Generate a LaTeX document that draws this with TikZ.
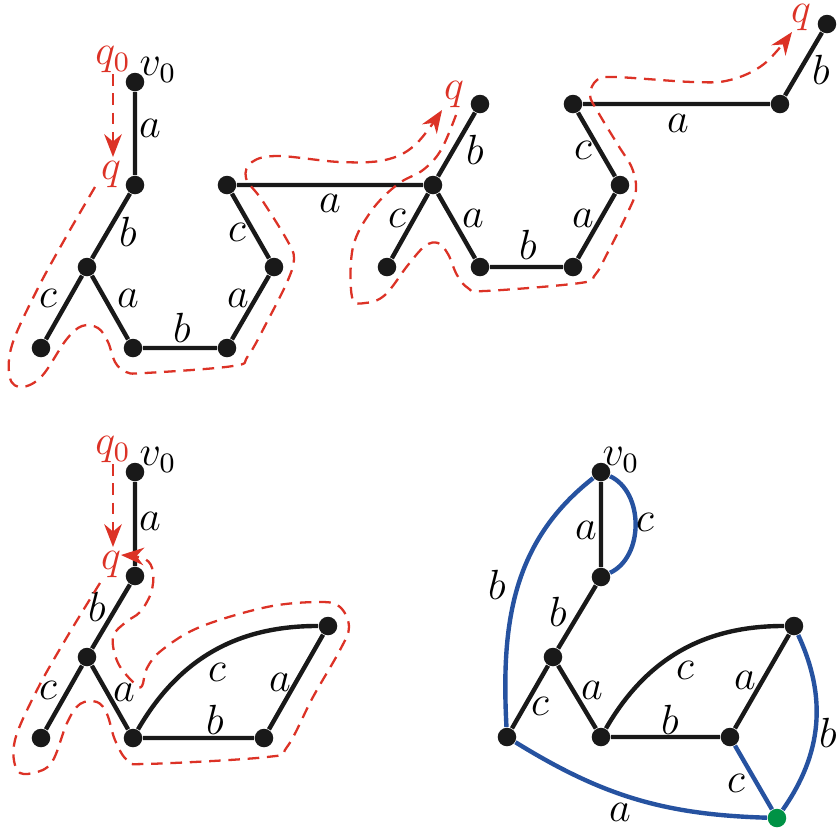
\documentclass[tikz,border=0pt]{standalone}
\usepackage{amsmath}
\usepackage{xcolor}
\usepackage{tikz}
\usetikzlibrary{arrows.meta, calc}

\definecolor{walkred}{RGB}{220,50,38}
\definecolor{edgeblue}{RGB}{38,82,160}
\definecolor{sinkgreen}{RGB}{0,146,69}

\begin{document}
\begin{tikzpicture}[x=0.01cm, y=-0.01cm, >={Stealth[length=6.5pt, width=5pt]}, every node/.style={font=\fontsize{11.5}{13}\selectfont}]
    \tikzstyle{vert}=[circle, fill=black!90, inner sep=0pt, minimum size=0.185cm]
    \tikzstyle{sink}=[circle, fill=sinkgreen, inner sep=0pt, minimum size=0.185cm]
    \tikzstyle{tree}=[line width=1.25pt, black!90]
    \tikzstyle{extra}=[line width=1.25pt, edgeblue]
    \tikzstyle{walk}=[walkred, line width=0.65pt, dash pattern=on 3.3pt off 2.2pt]
    \tikzstyle{lbl}=[inner sep=0pt]
    \tikzstyle{qlbl}=[inner sep=0pt, text=walkred]

    \useasboundingbox (0,0) rectangle (838,832);

    % top: first unfolding
    \node[vert] (t0) at (135, 82) {};
    \node[vert] (t1) at (135,185) {};
    \node[vert] (t2) at (87, 267) {};
    \node[vert] (t3) at (41, 348) {};
    \node[vert] (t4) at (133,348) {};
    \node[vert] (t5) at (227,348) {};
    \node[vert] (t6) at (274,267) {};
    \node[vert] (t7) at (227,185) {};
    \node[vert] (t8) at (433,185) {};
    \node[vert] (t9) at (480,104) {};
    \node[vert] (t10) at (387,267) {};
    \node[vert] (t11) at (480,267) {};
    \node[vert] (t12) at (573,267) {};
    \node[vert] (t13) at (620,185) {};
    \node[vert] (t14) at (573,104) {};
    \node[vert] (t15) at (780,104) {};
    \node[vert] (t16) at (827, 24) {};

    \draw[tree] (t0) -- (t1) -- (t2) -- (t3);
    \draw[tree] (t2) -- (t4) -- (t5) -- (t6) -- (t7) -- (t8) -- (t9);
    \draw[tree] (t8) -- (t10);
    \draw[tree] (t8) -- (t11) -- (t12) -- (t13) -- (t14) -- (t15) -- (t16);

    \node[lbl] (ta1) at (150,128) {$a$};
    \node[lbl] (tb1) at (128,232) {$b$};
    \node[lbl] (tc1) at (48, 298) {$c$};
    \node[lbl] (ta2) at (128,298) {$a$};
    \node[lbl] (tb2) at (182,328) {$b$};
    \node[lbl] (ta3) at (238,298) {$a$};
    \node[lbl] (tc2) at (237,232) {$c$};
    \node[lbl] (ta4) at (330,203) {$a$};
    \node[lbl] (tb3) at (475,150) {$b$};
    \node[lbl] (tc3) at (397,218) {$c$};
    \node[lbl] (ta5) at (473,218) {$a$};
    \node[lbl] (tb4) at (528,245) {$b$};
    \node[lbl] (ta6) at (583,218) {$a$};
    \node[lbl] (tc4) at (583,150) {$c$};
    \node[lbl] (ta7) at (678,123) {$a$};
    \node[lbl] (tb5) at (821, 70) {$b$};
    \node[lbl] (tv0) at (158, 70) {$v_0$};

    \node[qlbl] (tq0) at (113, 60) {$q_0$};
    \node[qlbl] (tq1) at (111,175) {$q$};
    \node[qlbl] (tq2) at (454, 95) {$q$};
    \node[qlbl] (tq3) at (801, 18) {$q$};

    \coordinate (tq0s) at (113, 74);
    \coordinate (tq0e) at (113,157);
    \draw[walk, ->] (tq0s) -- (tq0e);
    \draw[walk, ->] plot[smooth, tension=0.6] coordinates {(95,187) (66,237) (37,290) (12,345) (10,378) (22,387) (42,376) (66,340) (82,326) (98,328) (108,342) (115,362) (126,372) (145,373) (233,366) (248,356) (268,320) (288,280) (294,258) (287,240) (262,200) (246,178) (252,162) (278,156) (340,162) (385,160) (415,145) (442,110)};
    \draw[walk, ->] plot[smooth, tension=0.6] coordinates {(456,115) (441,150) (423,170) (398,184) (372,210) (353,247) (352,297) (365,303) (385,295) (408,265) (425,246) (438,243) (448,254) (457,275) (468,288) (485,291) (580,283) (595,275) (608,252) (628,212) (636,190) (632,168) (618,145) (598,112) (590,95) (597,80) (615,77) (693,82) (730,80) (764,64) (792,32)};

    % bottom left: folded
    \node[vert] (f0) at (135,472) {};
    \node[vert] (f1) at (135,576) {};
    \node[vert] (f2) at (87, 657) {};
    \node[vert] (f3) at (41, 738) {};
    \node[vert] (f4) at (133,738) {};
    \node[vert] (f5) at (264,738) {};
    \node[vert] (f6) at (328,626) {};

    \draw[tree] (f0) -- (f1) -- (f2) -- (f3);
    \draw[tree] (f2) -- (f4) -- (f5) -- (f6);
    \draw[tree] (f4) to[bend left=30] (f6);

    \node[lbl] (fa1) at (150,521) {$a$};
    \node[lbl] (fb1) at (97, 607) {$b$};
    \node[lbl] (fc1) at (48, 690) {$c$};
    \node[lbl] (fa2) at (124,692) {$a$};
    \node[lbl] (fc2) at (217,672) {$c$};
    \node[lbl] (fb2) at (215,720) {$b$};
    \node[lbl] (fa3) at (280,682) {$a$};
    \node[lbl] (fv0) at (158,460) {$v_0$};

    \node[qlbl] (fq0) at (113,450) {$q_0$};
    \node[qlbl] (fq1) at (111,565) {$q$};

    \coordinate (fq0s) at (113,464);
    \coordinate (fq0e) at (113,547);
    \draw[walk, ->] (fq0s) -- (fq0e);
    \draw[walk, ->] plot[smooth, tension=0.6] coordinates {(100,583) (67,637) (37,690) (15,740) (17,770) (33,773) (52,762) (67,723) (80,704) (97,702) (107,714) (115,740) (127,760) (145,764) (267,757) (287,747) (313,697) (340,650) (349,627) (340,607) (320,602) (267,607) (200,627) (162,650) (147,668) (142,686) (135,684) (118,663) (113,637) (126,622) (140,612) (151,593) (153,572) (145,559) (121,555)};

    % bottom right: completed
    \node[vert] (g0) at (601,472) {};
    \node[vert] (g1) at (601,577) {};
    \node[vert] (g2) at (553,657) {};
    \node[vert] (g3) at (507,737) {};
    \node[vert] (g4) at (601,737) {};
    \node[vert] (g5) at (730,737) {};
    \node[vert] (g6) at (794,626) {};
    \node[sink] (g7) at (777,818) {};

    \draw[extra] (g0) to[bend left=65] (g1);
    \draw[extra] (g0) to[out=218, in=93] (g3);
    \draw[extra] (g3) to[bend right=15] (g7);
    \draw[extra] (g5) -- (g7);
    \draw[extra] (g6) to[bend left=30] (g7);

    \draw[tree] (g0) -- (g1) -- (g2) -- (g3);
    \draw[tree] (g2) -- (g4) -- (g5) -- (g6);
    \draw[tree] (g4) to[bend left=30] (g6);

    \node[lbl] (ga1) at (586,530) {$a$};
    \node[lbl] (gc1) at (645,522) {$c$};
    \node[lbl] (gb1) at (497,585) {$b$};
    \node[lbl] (gb2) at (558,612) {$b$};
    \node[lbl] (gc2) at (540,706) {$c$};
    \node[lbl] (ga2) at (592,690) {$a$};
    \node[lbl] (gc3) at (685,670) {$c$};
    \node[lbl] (gb3) at (670,720) {$b$};
    \node[lbl] (ga3) at (745,680) {$a$};
    \node[lbl] (gb4) at (828,733) {$b$};
    \node[lbl] (gc4) at (736,783) {$c$};
    \node[lbl] (ga4) at (620,812) {$a$};
    \node[lbl] (gv0) at (621,460) {$v_0$};
\end{tikzpicture}
\end{document}
